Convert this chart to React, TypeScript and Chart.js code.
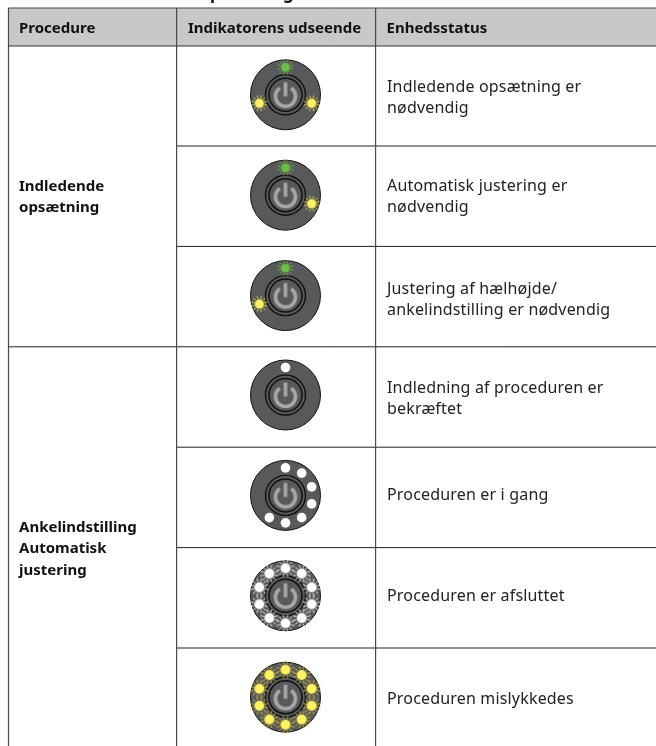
import React, { useEffect, useRef } from "react";
import { Chart, registerables } from "chart.js";

Chart.register(...registerables);

const headers = ["Procedure", "Indikatorens udseende", "Enhedsstatus"];
const clippedTitle = "opsætning";
const groups = [
  { lines: ["Indledende", "opsætning"], baselineRow: 1.45 },
  { lines: ["Ankelindstilling", "Automatisk", "justering"], baselineRow: 4.845 },
];
const statusLines = [
  ["Indledende opsætning er", "nødvendig"],
  ["Automatisk justering er", "nødvendig"],
  ["Justering af hælhøjde/", "ankelindstilling er nødvendig"],
  ["Indledning af proceduren er", "bekræftet"],
  ["Proceduren er i gang"],
  ["Proceduren er afsluttet"],
  ["Proceduren mislykkedes"],
];
const statusBaselineRows = [0.46, 1.45, 2.47, 3.46, 4.53, 5.53, 6.56];
const iconRows = [0.49, 1.49, 2.49, 3.48, 4.48, 5.48, 6.49];
const greenSlots = [[0, 0], [1, 0], [2, 0]];
const yellowSlots = [[0, 3], [0, 7], [1, 3], [2, 7]];
const whiteSlots = [[3, 0], [4, 0], [4, 1], [4, 2], [4, 3], [4, 4], [4, 5], [4, 6]];
const whiteBurstSlots = [0, 1, 2, 3, 4, 5, 6, 7, 8, 9].map((s) => [5, s]);
const yellowBurstSlots = [0, 1, 2, 3, 4, 5, 6, 7, 8, 9].map((s) => [6, s]);

const ROW_TOP = 45.6;
const ROW_H = 100.4;
const ICON_X = 285.5;
const RING_R = 27.5;
const COLS = [8.5, 176.6, 375.6];
const FONT = '"Noto Sans"';

function rayed(core: string, ray: string, rOuter = 8.5, coreR = 4.8, n = 12) {
  const c = document.createElement("canvas");
  c.width = c.height = 20;
  const g = c.getContext("2d")!;
  g.translate(10, 10);
  g.strokeStyle = ray;
  g.lineWidth = 1;
  for (let i = 0; i < n; i++) {
    const a = ((i + 0.5) * 2 * Math.PI) / n;
    g.beginPath();
    g.moveTo(Math.cos(a) * (coreR + 0.9), Math.sin(a) * (coreR + 0.9));
    g.lineTo(Math.cos(a) * rOuter, Math.sin(a) * rOuter);
    g.stroke();
  }
  g.fillStyle = core;
  g.beginPath();
  g.arc(0, 0, coreR, 0, 2 * Math.PI);
  g.fill();
  return c;
}

function powerGlyph() {
  const c = document.createElement("canvas");
  c.width = c.height = 30;
  const g = c.getContext("2d")!;
  g.translate(15, 15);
  g.strokeStyle = "#a7a9ac";
  g.lineWidth = 3.6;
  g.beginPath();
  g.arc(0, 1.5, 10, -Math.PI / 2 + 0.6, -Math.PI / 2 - 0.6 + 2 * Math.PI);
  g.stroke();
  g.beginPath();
  g.moveTo(0, -12.5);
  g.lineTo(0, 1.5);
  g.stroke();
  return c;
}

const ledPoint = ([row, slot]: number[]) => {
  const a = (slot * 36 * Math.PI) / 180;
  return {
    x: ICON_X + RING_R * Math.sin(a),
    y: iconRows[row] - (RING_R * Math.cos(a)) / ROW_H,
  };
};

export default function App() {
  const ref = useRef<HTMLCanvasElement>(null);
  useEffect(() => {
    const centers = iconRows.map((y) => ({ x: ICON_X, y }));
    const tablePlugin = {
      id: "table",
      beforeDatasetsDraw(chart: any) {
        const { ctx, scales } = chart;
        const y = (v: number) => scales.y.getPixelForValue(v);
        const x = (v: number) => scales.x.getPixelForValue(v);
        const top = 8;
        const hb = y(0) + 0.4;
        ctx.save();
        ctx.fillStyle = "#c7c8ca";
        ctx.fillRect(x(COLS[0]), top, 656, hb - top);
        ctx.lineWidth = 1;
        const hl = (py: number, from: number, col = "#231f20") => {
          ctx.strokeStyle = col;
          ctx.beginPath();
          ctx.moveTo(x(from), py);
          ctx.lineTo(656, py);
          ctx.stroke();
        };
        hl(top, COLS[0], "#4a4a4c");
        hl(hb, COLS[0], "#333335");
        for (let k = 1; k <= 6; k++) {
          hl(y(k), k === 3 ? COLS[0] : COLS[1]);
        }
        ctx.lineWidth = 1.2;
        COLS.forEach((c) => {
          ctx.strokeStyle = "#4a4a4c";
          ctx.beginPath();
          ctx.moveTo(x(c), top);
          ctx.lineTo(x(c), 746);
          ctx.stroke();
        });
        ctx.fillStyle = "#111";
        ctx.textBaseline = "alphabetic";
        ctx.textAlign = "left";
        ctx.letterSpacing = "0.5px";
        ctx.font = `bold 17px ${FONT}`;
        ctx.fillText(clippedTitle, 199, -1);
        ctx.letterSpacing = "0px";
        ctx.font = `bold 15px ${FONT}`;
        headers.forEach((h, i) => ctx.fillText(h, [19, 188, 386.5][i], 33));
        groups.forEach((g) =>
          g.lines.forEach((l, i) => ctx.fillText(l, 19, y(g.baselineRow) + i * 21.3))
        );
        ctx.font = `16px ${FONT}`;
        ctx.letterSpacing = "0.17px";
        ctx.fillStyle = "#222";
        statusLines.forEach((ls, r) =>
          ls.forEach((l, i) => ctx.fillText(l, 387, y(statusBaselineRows[r]) + i * 21))
        );
        ctx.restore();
      },
    };
    const chart = new Chart(ref.current!, {
      type: "scatter",
      data: {
        datasets: [
          { label: "green", data: greenSlots.map(ledPoint), pointStyle: rayed("#6abd45", "#7ac143", 7.8, 4.6) as any, pointRadius: 9 },
          { label: "yellow", data: yellowSlots.map(ledPoint), pointStyle: rayed("#fff25f", "#f5e23a", 8, 4.7) as any, pointRadius: 9 },
          { label: "white", data: whiteSlots.map(ledPoint), pointStyle: "circle", pointRadius: 4.8, backgroundColor: "#ffffff", borderWidth: 0 },
          { label: "whiteBurst", data: whiteBurstSlots.map(ledPoint), pointStyle: rayed("#ffffff", "#f1f2f2", 9, 5) as any, pointRadius: 9 },
          { label: "yellowBurst", data: yellowBurstSlots.map(ledPoint), pointStyle: rayed("#fff25f", "#d6bc2a", 9, 5) as any, pointRadius: 9 },
          { label: "glyph", data: centers, pointStyle: powerGlyph() as any, pointRadius: 15 },
          { label: "innerRing", data: centers, pointStyle: "circle", pointRadius: 16.5, backgroundColor: "#58595b", borderColor: "#111", borderWidth: 1.5 },
          { label: "outerRing", data: centers, pointStyle: "circle", pointRadius: 20, backgroundColor: "#58595b", borderColor: "#111", borderWidth: 1.4 },
          { label: "body", data: centers, pointStyle: "circle", pointRadius: 35, backgroundColor: "#58595b", borderColor: "#111", borderWidth: 1 },
        ],
      },
      options: {
        animation: false,
        responsive: false,
        events: [],
        layout: { padding: 0, autoPadding: false },
        plugins: { legend: { display: false }, tooltip: { enabled: false } },
        scales: {
          x: { type: "linear", min: 0, max: 656, display: false },
          y: { type: "linear", min: -ROW_TOP / ROW_H, max: (746 - ROW_TOP) / ROW_H, reverse: true, display: false },
        },
      },
      plugins: [tablePlugin],
    } as any);
    return () => chart.destroy();
  }, []);
  return (
    <canvas
      ref={ref}
      width={656}
      height={746}
      style={{ position: "fixed", left: 0, top: 0, width: 656, height: 746, background: "#fff" }}
    />
  );
}
